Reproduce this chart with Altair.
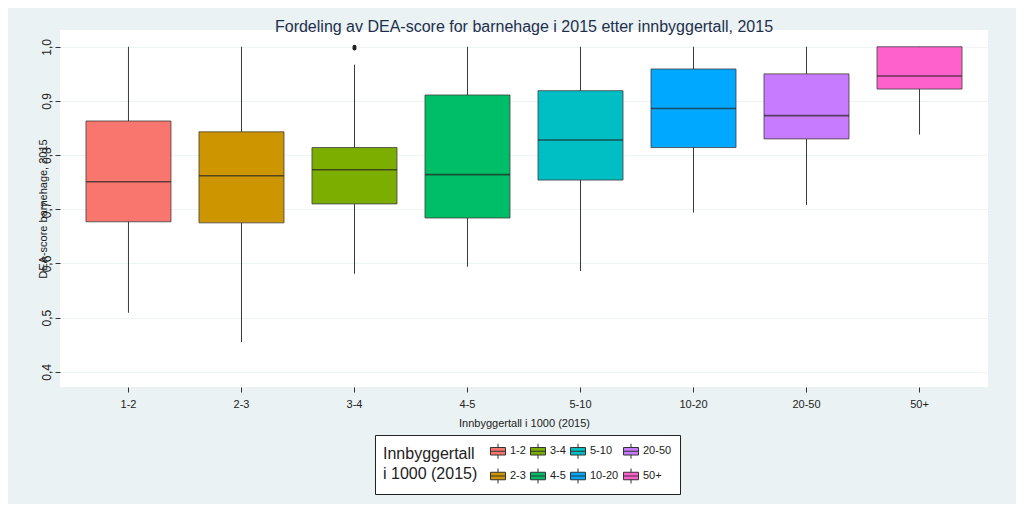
import altair as alt
import pandas as pd

groups = ["1-2", "2-3", "3-4", "4-5", "5-10", "10-20", "20-50", "50+"]
colors = ["#F8766D", "#CD9600", "#7CAE00", "#00BE67", "#00BFC4", "#00A9FF", "#C77CFF", "#FF61CC"]
whisk_lo = [0.509, 0.455, 0.581, 0.594, 0.586, 0.694, 0.708, 0.838]
q1 = [0.677, 0.675, 0.710, 0.684, 0.754, 0.814, 0.830, 0.922]
median = [0.751, 0.762, 0.773, 0.764, 0.828, 0.886, 0.873, 0.946]
q3 = [0.863, 0.843, 0.814, 0.911, 0.919, 0.959, 0.950, 1.000]
whisk_hi = [1.000, 1.000, 0.967, 1.000, 1.000, 1.000, 1.000, 1.000]
outlier_groups = ["3-4", "3-4"]
outlier_values = [1.000, 0.997]
y_ticks = [0.4, 0.5, 0.6, 0.7, 0.8, 0.9, 1.0]

df = pd.DataFrame({"grp": groups, "lo": whisk_lo, "q1": q1, "med": median, "q3": q3, "hi": whisk_hi})
out = pd.DataFrame({"grp": outlier_groups, "v": outlier_values})

xscale = alt.Scale(domain=groups, paddingInner=0, paddingOuter=0.106)
x = alt.X("grp:N", sort=groups, scale=xscale, title="Innbyggertall i 1000 (2015)",
          axis=alt.Axis(labelAngle=0, labelFontSize=11, titleFontSize=11, titleFontWeight="normal",
                        titlePadding=8, domain=False, tickColor="#333", tickSize=5,
                        labelColor="#222", titleColor="#222", labelPadding=6))
yscale = alt.Scale(domain=[0.372, 1.031], nice=False, zero=False)
yaxis = alt.Axis(values=y_ticks, labelExpr="replace(format(datum.value, '.1f'), '.', ',')",
                 labelAngle=-90, labelAlign="center", labelBaseline="bottom", labelFontSize=12,
                 labelColor="#222", titleColor="#222", titleFontSize=11, titleFontWeight="normal",
                 domain=False, tickColor="#333", tickSize=5, grid=True, gridColor="#EEF3F4",
                 titlePadding=-8, labelPadding=2)

base = alt.Chart(df)
whisk = base.mark_rule(color="#3a3a3a", strokeWidth=1).encode(
    x=x, y=alt.Y("lo:Q", scale=yscale, axis=yaxis, title="DEA-score barnehage, 2015"), y2="hi:Q")
box = base.mark_bar(size=85, stroke="#3d3d3d", strokeWidth=1, strokeOpacity=0.8).encode(
    x=x, y="q1:Q", y2="q3:Q",
    color=alt.Color("grp:N", scale=alt.Scale(domain=groups, range=colors),
                    legend=alt.Legend(title=["Innbyggertall", "i 1000 (2015)"], orient="none",
                                      legendX=315, legendY=405, columns=4, titleOrient="left",
                                      titleFontSize=16, titleFontWeight="normal", titleColor="#222",
                                      titleLineHeight=20,
                                      labelFontSize=11, labelColor="#222",
                                      symbolType="M-1,-0.5H1V0.5H-1Z M-1,0H1 M0,-0.5V-1 M0,0.5V1",
                                      symbolSize=225, symbolStrokeColor="#333", symbolStrokeWidth=1,
                                      symbolOpacity=1, columnPadding=2, rowPadding=5,
                                      strokeColor="#222", fillColor="white", padding=8,
                                      titlePadding=12, labelOffset=4)))
med = base.mark_tick(size=85, thickness=1.6, color="#222").encode(x=x, y="med:Q")
pts = alt.Chart(out).mark_point(filled=True, color="#222", size=16, opacity=1).encode(x=x, y="v:Q")

chart = alt.layer(whisk, box, med, pts).properties(
    width=928, height=357,
    title=alt.TitleParams("Fordeling av DEA-score for barnehage i 2015 etter innbyggertall, 2015",
                          fontSize=16, fontWeight="normal", color="#1E2F4B", anchor="middle",
                          offset=-3, dy=2),
    background="#EAF2F3",
    view=alt.ViewBackground(fill="white", stroke=None),
    autosize=alt.AutoSizeParams(type="none"),
    padding={"left": 52, "top": 22, "right": 28, "bottom": 117},
).configure(font="Arial")

chart.save("out.html", embed_options={"renderer": "svg", "actions": False})
